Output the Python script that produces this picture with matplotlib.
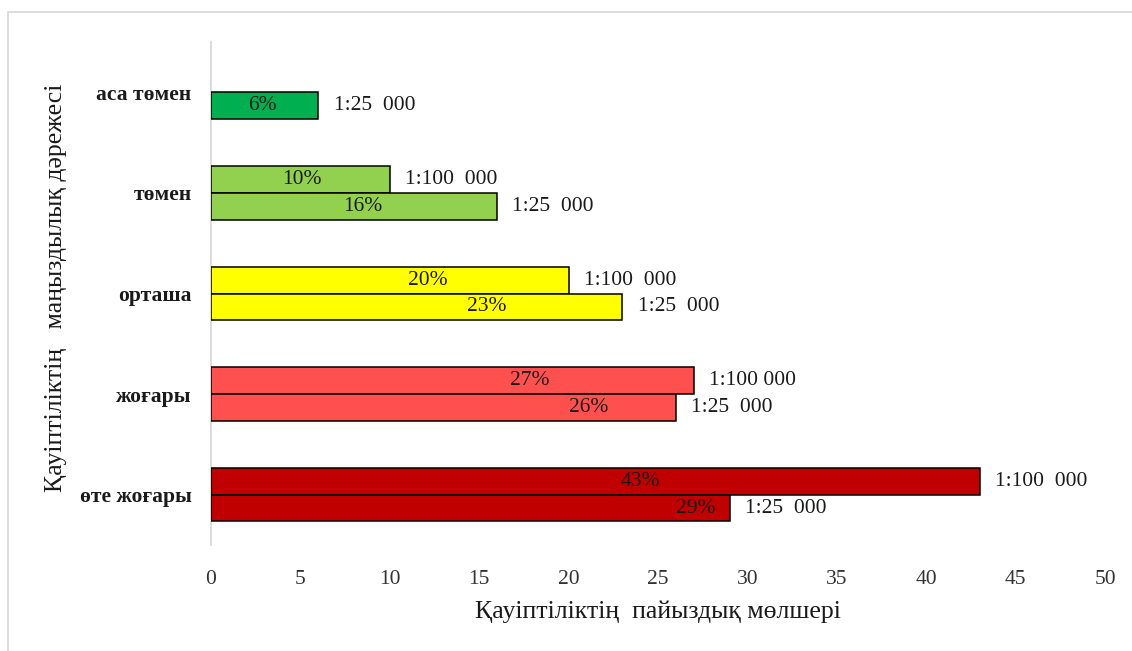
import numpy as np
import matplotlib
matplotlib.use("Agg")
import matplotlib.pyplot as plt
from matplotlib.patches import Rectangle

# ---- data ----
categories = ['өте жоғары', 'жоғары', 'орташа', 'төмен', 'аса төмен']
values_100k = [43, 27, 20, 10, np.nan]
values_25k = [29, 26, 23, 16, 6]
scale_100k = ['1:100  000', '1:100 000', '1:100  000', '1:100  000', None]
scale_25k = ['1:25  000', '1:25  000', '1:25  000', '1:25  000', '1:25  000']
xticks = [0, 5, 10, 15, 20, 25, 30, 35, 40, 45, 50]
xlabel = 'Қауіптіліктің  пайыздық мөлшері'
ylabel = 'Қауіптіліктің   маңыздылық дәрежесі'

# ---- styles ----
cat_colors = ['#C00000', '#FF5050', '#FFFF00', '#92D050', '#00B050']
# manual in-bar label positions (data units), as placed in the original
pct_pos_100k = [24.0, 17.8, 12.1, 5.1, np.nan]
pct_pos_25k = [27.1, 21.1, 15.4, 8.5, 2.85]

serif = ['Liberation Serif', 'DejaVu Serif']
plt.rcParams['font.family'] = serif

W, H = 1132, 651
fig = plt.figure(figsize=(W / 100, H / 100), dpi=100)
ax = fig.add_axes([211 / W, 1 - 545 / H, (1105 - 211) / W, (545 - 42) / H])

# figure frame
fig.patches.append(Rectangle((8 / W, -0.1), 2.0, (H - 12) / H + 0.1,
                             transform=fig.transFigure, fill=False,
                             edgecolor='#D9D9D9', linewidth=1.3, zorder=0))

y = np.arange(len(categories))
bh = 0.265
off = bh / 2

ax.barh(y + off, values_100k, height=bh, color=cat_colors,
        edgecolor='black', linewidth=1.1, zorder=3)
ax.barh(y - off, values_25k, height=bh, color=cat_colors,
        edgecolor='black', linewidth=1.1, zorder=3)

fs = 15.5
for i in range(len(categories)):
    v = values_100k[i]
    if not np.isnan(v):
        ax.text(pct_pos_100k[i], y[i] + off, f'{int(v)}%', ha='center',
                va='center', fontsize=fs, color='#1a1a1a', zorder=4)
        ax.annotate(scale_100k[i], (v, y[i] + off), xytext=(11, 0),
                    textcoords='offset points', ha='left', va='center',
                    fontsize=fs, color='#1a1a1a')
    v = values_25k[i]
    ax.text(pct_pos_25k[i], y[i] - off, f'{int(v)}%', ha='center',
            va='center', fontsize=fs, color='#1a1a1a', zorder=4)
    ax.annotate(scale_25k[i], (v, y[i] - off), xytext=(11, 0),
                textcoords='offset points', ha='left', va='center',
                fontsize=fs, color='#1a1a1a')

ax.set_xlim(0, 50)
ax.set_ylim(-0.5, len(categories) - 0.5)
ax.set_xticks(xticks)
ax.set_xticklabels([str(t) for t in xticks], fontsize=fs, color='#333333')
ax.set_yticks(y)
ax.set_yticklabels(categories, fontsize=15.5, fontweight='bold',
                   color='#1a1a1a')
ax.tick_params(axis='x', length=0, pad=18)
ax.tick_params(axis='y', length=0, pad=14)

for s in ['top', 'right', 'bottom']:
    ax.spines[s].set_visible(False)
ax.spines['left'].set_color('#D9D9D9')
ax.spines['left'].set_linewidth(1.3)

fig.text(658 / W, 1 - 612 / H, xlabel, ha='center', va='center',
         fontsize=18.5, color='#1a1a1a')
fig.text(56 / W, 1 - 288 / H, ylabel, ha='center', va='center',
         rotation=90, fontsize=18.5, color='#1a1a1a')

fig.savefig('out.png', dpi=100)
